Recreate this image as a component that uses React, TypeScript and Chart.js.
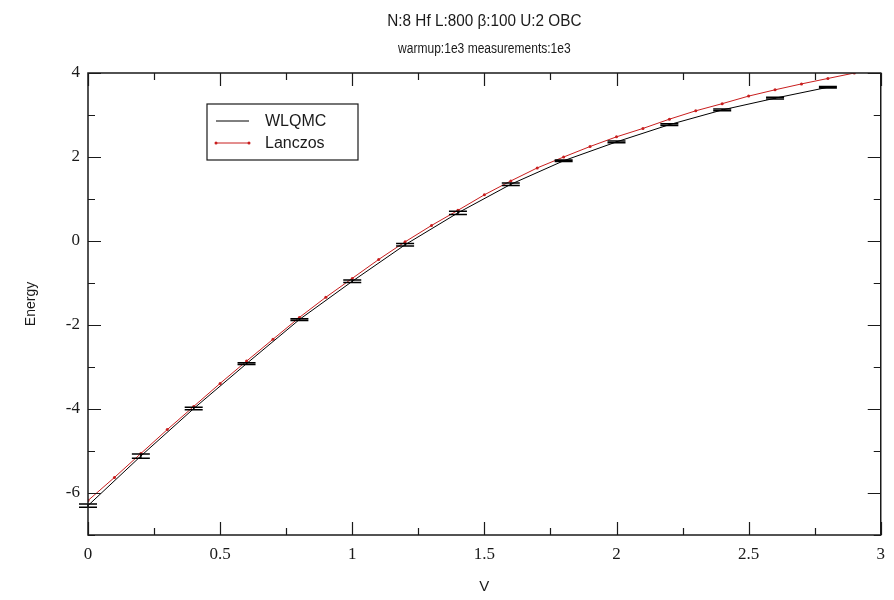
import React, { useEffect, useRef } from "react";
import { Chart, registerables } from "chart.js";

Chart.register(...registerables);

const TITLE = "N:8 Hf L:800 \u03b2:100 U:2 OBC";
const SUBTITLE = "warmup:1e3 measurements:1e3";
const X_LABEL = "V";
const Y_LABEL = "Energy";

const V_WLQMC = [0, 0.2, 0.4, 0.6, 0.8, 1.0, 1.2, 1.4, 1.6, 1.8, 2.0, 2.2, 2.4, 2.6, 2.8];
const E_WLQMC = [-6.3, -5.12, -3.99, -2.92, -1.87, -0.96, -0.09, 0.67, 1.35, 1.91, 2.36, 2.77, 3.12, 3.4, 3.66];
const ERR_WLQMC = [0.04, 0.05, 0.03, 0.02, 0.02, 0.03, 0.03, 0.04, 0.03, 0.02, 0.02, 0.02, 0.02, 0.02, 0.02];

const V_LANCZOS = [0, 0.1, 0.2, 0.3, 0.4, 0.5, 0.6, 0.7, 0.8, 0.9, 1.0, 1.1, 1.2, 1.3, 1.4, 1.5, 1.6, 1.7, 1.8, 1.9, 2.0, 2.1, 2.2, 2.3, 2.4, 2.5, 2.6, 2.7, 2.8, 2.9];
const E_LANCZOS = [-6.18, -5.63, -5.06, -4.49, -3.94, -3.39, -2.86, -2.34, -1.82, -1.34, -0.89, -0.44, -0.02, 0.37, 0.73, 1.1, 1.43, 1.74, 2.0, 2.25, 2.48, 2.68, 2.9, 3.1, 3.27, 3.45, 3.6, 3.74, 3.87, 4.0];

const X_MAJOR = [0, 0.5, 1, 1.5, 2, 2.5, 3];
const X_MINOR = [0.25, 0.75, 1.25, 1.75, 2.25, 2.75];
const Y_MAJOR = [-6, -4, -2, 0, 2, 4];
const Y_MINOR = [-7, -5, -3, -1, 1, 3];

const SANS = "'Liberation Sans', Arial, sans-serif";
const SERIF = "'Liberation Serif', 'Times New Roman', serif";
const INK = "#1a1a1a";
const RED = "#c81e1e";

const decor = {
  id: "decor",
  afterDatasetsDraw(chart: any) {
    const ctx = chart.ctx;
    const { left, right, top, bottom } = chart.chartArea;
    const xs = chart.scales.x;
    const ys = chart.scales.y;
    ctx.save();
    // error bars
    ctx.strokeStyle = "#000";
    ctx.lineWidth = 1.5;
    V_WLQMC.forEach((v, i) => {
      const px = xs.getPixelForValue(v);
      const y1 = ys.getPixelForValue(E_WLQMC[i] + ERR_WLQMC[i]);
      const y2 = ys.getPixelForValue(E_WLQMC[i] - ERR_WLQMC[i]);
      ctx.beginPath();
      ctx.moveTo(px, y1);
      ctx.lineTo(px, y2);
      ctx.moveTo(px - 9, y1);
      ctx.lineTo(px + 9, y1);
      ctx.moveTo(px - 9, y2);
      ctx.lineTo(px + 9, y2);
      ctx.stroke();
    });
    // frame
    ctx.strokeStyle = INK;
    ctx.lineWidth = 1.5;
    ctx.strokeRect(left, top, right - left, bottom - top);
    // inward ticks
    ctx.lineWidth = 1.2;
    ctx.beginPath();
    const xt = (vals: number[], len: number) => {
      vals.forEach((v) => {
        const px = Math.round(xs.getPixelForValue(v)) + 0.5;
        ctx.moveTo(px, bottom);
        ctx.lineTo(px, bottom - len);
        ctx.moveTo(px, top);
        ctx.lineTo(px, top + len);
      });
    };
    const yt = (vals: number[], len: number) => {
      vals.forEach((v) => {
        const py = Math.round(ys.getPixelForValue(v)) + 0.5;
        ctx.moveTo(left, py);
        ctx.lineTo(left + len, py);
        ctx.moveTo(right, py);
        ctx.lineTo(right - len, py);
      });
    };
    xt(X_MAJOR, 13);
    xt(X_MINOR, 7);
    yt(Y_MAJOR, 13);
    yt(Y_MINOR, 7);
    ctx.stroke();
    // titles (slightly condensed, like the original)
    const cx = (left + right) / 2;
    ctx.fillStyle = INK;
    ctx.textAlign = "center";
    ctx.textBaseline = "middle";
    ctx.save();
    ctx.translate(cx, 21);
    ctx.scale(0.9, 1);
    ctx.font = `17px ${SANS}`;
    ctx.fillText(TITLE, 0, 0);
    ctx.restore();
    ctx.save();
    ctx.translate(cx, 49);
    ctx.scale(0.86, 1);
    ctx.font = `14px ${SANS}`;
    ctx.fillText(SUBTITLE, 0, 0);
    ctx.restore();
    ctx.font = `15px ${SANS}`;
    ctx.fillText(X_LABEL, cx, 587);
    ctx.save();
    ctx.translate(31, (top + bottom) / 2);
    ctx.rotate(-Math.PI / 2);
    ctx.font = `14px ${SANS}`;
    ctx.fillText(Y_LABEL, 0, 0);
    ctx.restore();
    // legend
    const lx = 207, ly = 104, lw = 151, lh = 56;
    ctx.fillStyle = "#fff";
    ctx.fillRect(lx, ly, lw, lh);
    ctx.strokeStyle = INK;
    ctx.lineWidth = 1.2;
    ctx.strokeRect(lx, ly, lw, lh);
    ctx.lineWidth = 1;
    ctx.strokeStyle = "#000";
    ctx.beginPath();
    ctx.moveTo(216, 121);
    ctx.lineTo(249, 121);
    ctx.stroke();
    ctx.strokeStyle = RED;
    ctx.beginPath();
    ctx.moveTo(216, 143);
    ctx.lineTo(249, 143);
    ctx.stroke();
    ctx.fillStyle = RED;
    [216, 249].forEach((p) => {
      ctx.beginPath();
      ctx.arc(p, 143, 1.5, 0, Math.PI * 2);
      ctx.fill();
    });
    ctx.fillStyle = INK;
    ctx.textAlign = "left";
    ctx.font = `16px ${SANS}`;
    ctx.fillText("WLQMC", 265, 122);
    ctx.fillText("Lanczos", 265, 144);
    ctx.restore();
  },
};

export default function App() {
  const ref = useRef<HTMLCanvasElement>(null);
  useEffect(() => {
    if (!ref.current) return;
    const chart = new Chart(ref.current, {
      type: "line",
      data: {
        datasets: [
          {
            label: "WLQMC",
            data: V_WLQMC.map((v, i) => ({ x: v, y: E_WLQMC[i] })),
            borderColor: "#000",
            borderWidth: 1,
            pointRadius: 0,
            tension: 0,
            fill: false,
          },
          {
            label: "Lanczos",
            data: V_LANCZOS.map((v, i) => ({ x: v, y: E_LANCZOS[i] })),
            borderColor: RED,
            backgroundColor: RED,
            borderWidth: 1,
            pointRadius: 1.5,
            pointBorderWidth: 0,
            tension: 0,
            fill: false,
          },
        ],
      },
      options: {
        animation: false,
        responsive: false,
        layout: { padding: { top: 73, right: 8, left: 0, bottom: 0 } },
        plugins: {
          legend: { display: false },
          title: { display: false },
          tooltip: { enabled: false },
        },
        scales: {
          x: {
            type: "linear",
            min: 0,
            max: 3,
            grid: { display: false, drawTicks: false },
            border: { display: false },
            afterBuildTicks: (s: any) => {
              s.ticks = X_MAJOR.map((v) => ({ value: v }));
            },
            afterFit: (s: any) => {
              s.height = 65;
            },
            ticks: {
              padding: 9,
              color: INK,
              maxRotation: 0,
              font: { family: SERIF, size: 17 },
              callback: (v: any) => String(v),
            },
          },
          y: {
            type: "linear",
            min: -7,
            max: 4,
            grid: { display: false, drawTicks: false },
            border: { display: false },
            afterBuildTicks: (s: any) => {
              s.ticks = Y_MAJOR.map((v) => ({ value: v }));
            },
            afterFit: (s: any) => {
              s.width = 88;
            },
            ticks: {
              padding: 8,
              color: INK,
              font: { family: SERIF, size: 17 },
              callback: (v: any) => String(v),
            },
          },
        },
      },
      plugins: [decor],
    } as any);
    return () => chart.destroy();
  }, []);
  return (
    <div style={{ position: "absolute", left: 0, top: 0, width: 894, height: 600, background: "#fff" }}>
      <canvas ref={ref} width={894} height={600} />
    </div>
  );
}
